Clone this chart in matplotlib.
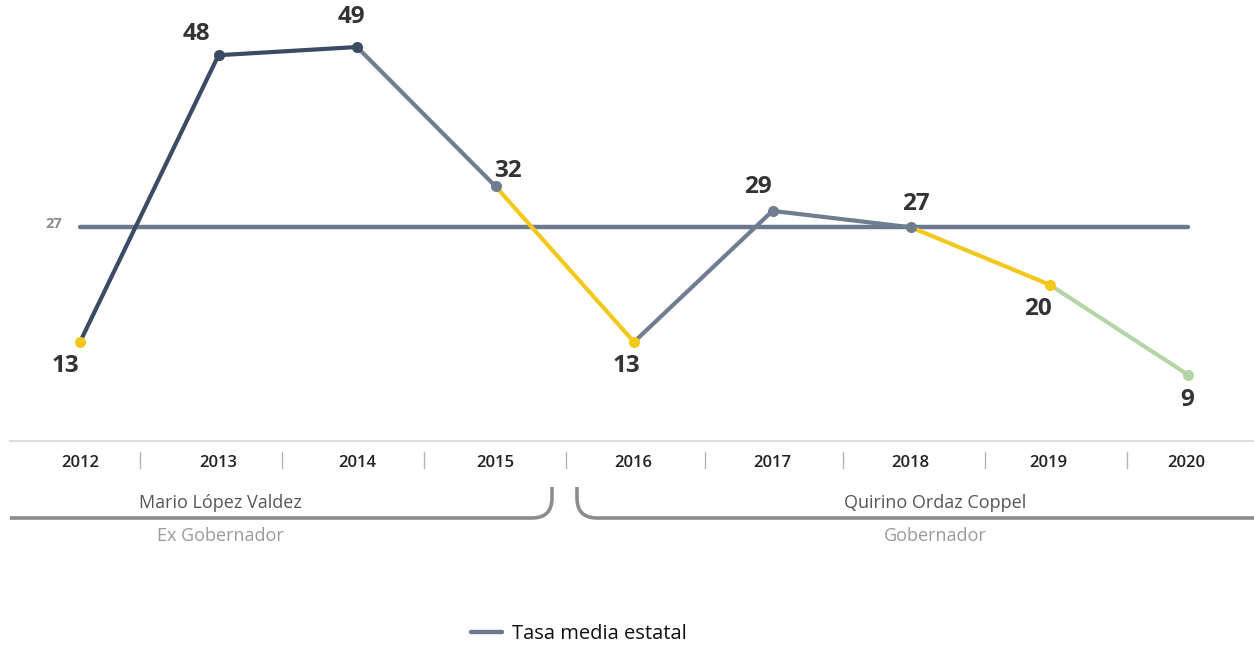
import matplotlib
matplotlib.use("Agg")
import matplotlib.pyplot as plt
import matplotlib.transforms as mtransforms
from matplotlib.path import Path
from matplotlib.patches import PathPatch

years = ["2012", "2013", "2014", "2015", "2016", "2017", "2018", "2019", "2020"]
values = [13, 48, 49, 32, 13, 29, 27, 20, 9]
average = 27
average_label = "Tasa media estatal"
governors = ["Mario López Valdez", "Quirino Ordaz Coppel"]
roles = ["Ex Gobernador", "Gobernador"]

NAVY = "#3c4a63"
GRAY = "#707c8f"
YELLOW = "#f2c81c"
GREEN = "#b4d5a6"
AVG = "#6c788b"
seg_colors = [NAVY, NAVY, GRAY, YELLOW, GRAY, GRAY, YELLOW, GREEN]
pt_colors = [YELLOW, NAVY, NAVY, GRAY, YELLOW, GRAY, GRAY, YELLOW, GREEN]
# label offsets in pixels (dx, dy) relative to point
lab_off = [(-15, 24), (-22, -21), (-6, -30), (12, -15), (-8, 24), (-15, -24), (5, -23), (-12, 24), (-1, 25)]

W, H = 1254, 646
fig = plt.figure(figsize=(W / 100, H / 100), dpi=100)
ax = fig.add_axes([0, 0, 1, 1])
xs = 138.5
x0 = 80
ys = 8.194
ax.set_xlim(-x0 / xs, (W - x0) / xs)
ax.set_ylim(13 - (H - 342) / ys, 13 + 342 / ys)
ax.axis("off")

FONT = "Open Sans"

# average line
ax.plot([0, len(years) - 1], [average, average], color=AVG, lw=3.2, solid_capstyle="round",
        zorder=1, label=average_label)

xi = list(range(len(years)))
for i in range(len(values) - 1):
    ax.plot(xi[i:i + 2], values[i:i + 2], color=seg_colors[i], lw=3.0,
            solid_capstyle="round", zorder=2)
for i, v in enumerate(values):
    ax.plot(xi[i], v, "o", color=pt_colors[i], ms=8, zorder=3, mec="none")
    dx, dy = lab_off[i]
    ax.annotate(str(v), (xi[i], v), xytext=(dx * 0.72, -dy * 0.72), textcoords="offset points",
                ha="center", va="center", fontsize=17.5, fontweight="bold",
                color="#333333", family=FONT)

# pixel transform (origin top-left)
pix = mtransforms.Affine2D().scale(1 / W, -1 / H).translate(0, 1) + fig.transFigure

ax.text(54, 224, str(average), transform=pix, ha="center", va="center", fontsize=10.5,
        fontweight="bold", color="#8a8a8a", family=FONT)

# axis baseline
fig.add_artist(plt.Line2D([10, W], [441, 441], transform=pix, color="#dedede", lw=1.5))
# year labels
year_px = [80, 218, 357, 495, 633, 772, 910, 1048, 1186]
for yr, px in zip(years, year_px):
    fig.text(px, 463, yr, transform=pix, ha="center", va="center", fontsize=12,
             fontweight="semibold", color="#222222", family=FONT)
for px in [140, 282, 424, 566, 705, 843, 985, 1127]:
    fig.add_artist(plt.Line2D([px, px], [452, 468], transform=pix, color="#b5b5b5", lw=1))

# brackets
left = Path([(10, 518), (532, 518), (552, 518), (552, 498), (552, 487)],
            [Path.MOVETO, Path.LINETO, Path.CURVE3, Path.CURVE3, Path.LINETO])
right = Path([(577, 487), (577, 498), (577, 518), (597, 518), (W, 518)],
             [Path.MOVETO, Path.LINETO, Path.CURVE3, Path.CURVE3, Path.LINETO])
for p in (left, right):
    fig.add_artist(PathPatch(p, transform=pix, fill=False, edgecolor="#8c8c8c", lw=2.6,
                             capstyle="butt"))

fig.text(220, 503, governors[0], transform=pix, ha="center", va="center", fontsize=13,
         color="#555555", family=FONT)
fig.text(220, 536, roles[0], transform=pix, ha="center", va="center", fontsize=13,
         color="#9a9a9a", family=FONT)
fig.text(935, 503, governors[1], transform=pix, ha="center", va="center", fontsize=13,
         color="#555555", family=FONT)
fig.text(935, 536, roles[1], transform=pix, ha="center", va="center", fontsize=13,
         color="#9a9a9a", family=FONT)

leg = fig.legend(loc="center", bbox_to_anchor=((468 + 690) / 2 / W, 1 - 634 / H),
                 frameon=False, prop={"family": FONT, "size": 14.5},
                 handlelength=1.5, handletextpad=0.5)
for t in leg.get_texts():
    t.set_color("#111111")

fig.savefig("out.png", dpi=100)
